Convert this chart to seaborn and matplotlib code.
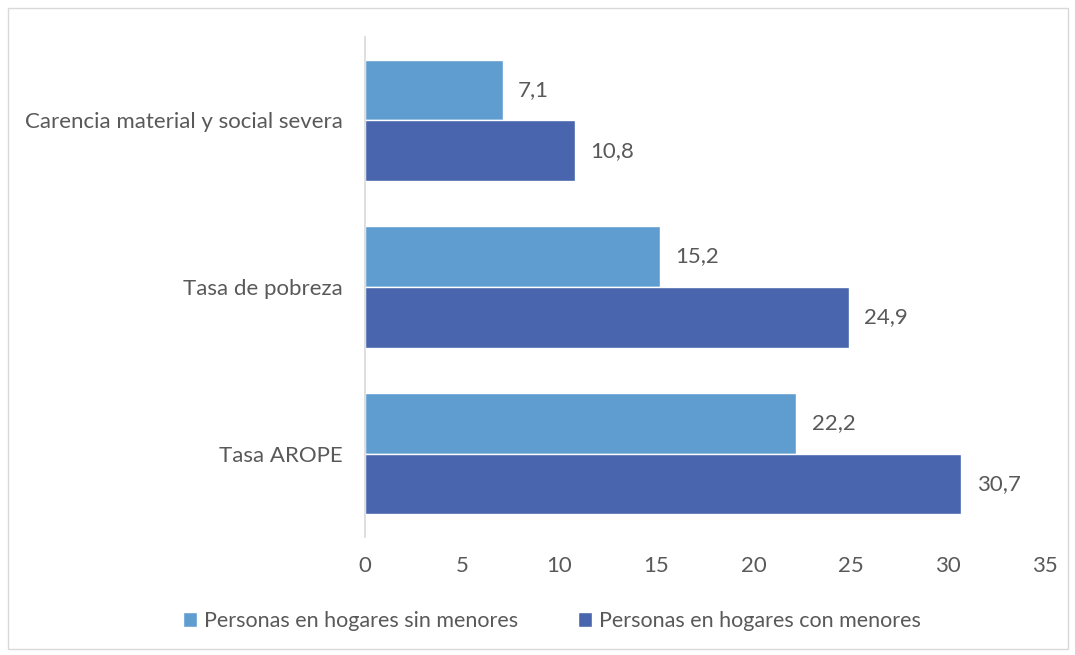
import pandas as pd
import seaborn as sns
import matplotlib.pyplot as plt
from matplotlib.patches import Rectangle

# datos
categorias = ["Carencia material y social severa", "Tasa de pobreza", "Tasa AROPE"]
series = ["Personas en hogares sin menores", "Personas en hogares con menores"]
sin_menores = [7.1, 15.2, 22.2]
con_menores = [10.8, 24.9, 30.7]
ticks_x = [0, 5, 10, 15, 20, 25, 30, 35]

df = pd.DataFrame({
    "categoria": categorias * 2,
    "serie": [series[0]] * 3 + [series[1]] * 3,
    "valor": sin_menores + con_menores,
})

sns.set_style("white")
plt.rcParams["font.family"] = ["Lato", "DejaVu Sans"]
gris = "#595959"

fig = plt.figure(figsize=(10.75, 6.55), dpi=100)
ax = fig.add_axes([0.3395, 0.1802, 0.6326, 0.7633])

sns.barplot(data=df, y="categoria", x="valor", hue="serie", order=categorias,
            hue_order=series, palette=["#5F9DD1", "#4865AD"], orient="h",
            width=0.73, gap=0, saturation=1, ax=ax, legend=True)

for cont in ax.containers:
    ax.bar_label(cont, labels=[f"{v:.1f}".replace(".", ",") for v in cont.datavalues],
                 padding=11, fontsize=16, color=gris)

ax.set_xlim(0, 35)
ax.set_xticks(ticks_x)
ax.set_xlabel("")
ax.set_ylabel("")
ax.tick_params(axis="x", labelsize=16, colors=gris, length=0, pad=14)
ax.tick_params(axis="y", labelsize=16, colors=gris, length=0, pad=16)
for s in ["top", "right", "bottom"]:
    ax.spines[s].set_visible(False)
ax.spines["left"].set_color("#D9D9D9")
ax.spines["left"].set_linewidth(1.2)

h, l = ax.get_legend_handles_labels()
ax.get_legend().remove()
fig.legend(h, l, loc="center", bbox_to_anchor=(0.5135, 0.052),
           ncol=2, frameon=False, fontsize=15.5, labelcolor=gris,
           handlelength=0.65, handleheight=0.65, handletextpad=0.3, columnspacing=2.8)

fig.patches.append(Rectangle((8 / 1075, 6 / 655), 1060 / 1075, 641 / 655,
                             transform=fig.transFigure, fill=False,
                             edgecolor="#D9D9D9", linewidth=1))

fig.savefig("out.png", dpi=100)
